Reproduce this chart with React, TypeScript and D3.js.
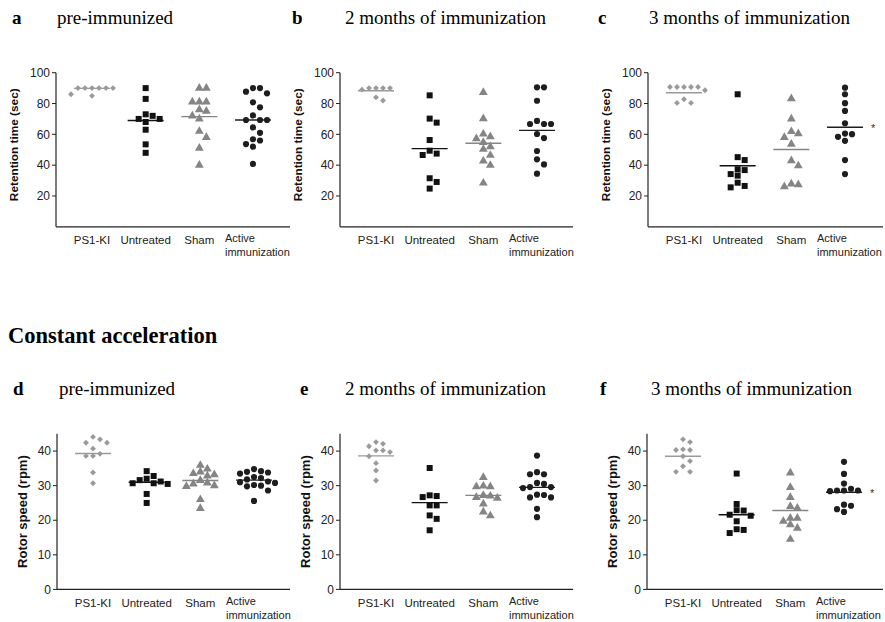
import React from "react";
import * as d3 from "d3";

const categories = ["PS1-KI", "Untreated", "Sham", "Active immunization"];
const panelLetters = ["a", "b", "c", "d", "e", "f"];
const panelTitles = [
  "pre-immunized",
  "2 months of immunization",
  "3 months of immunization",
  "pre-immunized",
  "2 months of immunization",
  "3 months of immunization",
];
const sectionTitle = "Constant acceleration";
const yLabelRetention = "Retention time (sec)";
const yLabelRotor = "Rotor speed (rpm)";
const retentionTicks = [20, 40, 60, 80, 100];
const rotorTicks = [0, 10, 20, 30, 40];

// Retention time (sec)
const retentionPre = [
  [90, 90, 90, 90, 90, 90, 86, 85],
  [90, 83, 72, 70, 68, 70, 73, 63, 53.5, 48],
  [90, 90, 81, 81, 81, 76, 75, 72, 70, 62, 58, 51, 40],
  [90, 90, 87.7, 86.6, 80.8, 77.5, 72.3, 69.3, 69.3, 69.3, 64.5, 61, 56.8, 56, 53.7, 52, 40.8],
];
const retention2m = [
  [90, 90, 89, 90, 90, 84, 82],
  [85.3, 67.6, 70.2, 56.3, 49.4, 46.6, 47.5, 31.5, 29.1, 24.8],
  [87.2, 70.2, 60.2, 58.5, 57.2, 54.8, 52, 50.3, 46.4, 42.7, 39.9, 28.4],
  [90.5, 90.5, 81.8, 66.7, 66.7, 66.7, 68.7, 60.2, 57.6, 49.2, 43.8, 40.5, 34.5],
];
const retention3m = [
  [90.7, 90.7, 90.7, 90.7, 90.7, 88.6, 82.8, 80.4, 80.4],
  [86, 43.3, 45.2, 37.3, 34.2, 33.2, 36.8, 28.6, 25.6, 26.5],
  [83.2, 70, 60.5, 61.8, 58, 53.6, 42.9, 39.6, 27.8, 26, 27.3],
  [90.3, 86, 80.2, 75.2, 67.2, 60.5, 60.1, 58.4, 55.8, 43.3, 34.2],
];
// Rotor speed (rpm)
const rotorPre = [
  [44.1, 43.4, 42.4, 42.4, 40.7, 39.2, 38.6, 38.6, 33.8, 30.7],
  [34.2, 32.8, 32, 31.6, 31.2, 30.7, 30.7, 30.5, 27.6, 25],
  [35.9, 34.8, 34.0, 33.5, 33.2, 32.8, 31.5, 30.8, 30.5, 30.0, 29.8, 26, 23.4],
  [34.8, 34.2, 34, 33.8, 33.5, 32.5, 32.2, 31.8, 31.2, 31, 30.8, 30.2, 30, 29.8, 28.6, 25.6],
];
const rotor2m = [
  [41.4, 42.1, 42.6, 40.2, 39.7, 40.2, 38.5, 36.5, 34.4, 31.5],
  [35.1, 27.2, 27, 26.7, 24.3, 24.3, 21.4, 20.4, 17.1],
  [32.4, 29.7, 29.7, 29.9, 27.2, 26.6, 27.0, 26.4, 24.7, 22.4, 21.3],
  [38.7, 33.9, 33.3, 33.3, 30.8, 30.5, 29.6, 29.3, 29.6, 27.4, 26.6, 26.6, 27.3, 23.3, 20.9],
];
const rotor3m = [
  [43.4, 42.6, 40.5, 40.3, 40.3, 38.5, 37.1, 35.6, 34, 34],
  [33.5, 24.7, 22.9, 22.8, 21.3, 21.6, 19.7, 17.4, 17.2, 16.3],
  [33.7, 29.5, 26.6, 24, 23.5, 20.6, 20.6, 19.7, 18.7, 17.7, 14.5],
  [36.9, 33.4, 30.6, 29.1, 28.6, 28.6, 28.4, 28.6, 24.5, 24.2, 23.2, 22.4],
];

// Group means (horizontal bars)
const retentionPreMeans = [89.8, 69, 71.5, 69.3];
const retention2mMeans = [88.3, 50.7, 54.2, 62.6];
const retention3mMeans = [87, 39.6, 50.2, 64.6];
const rotorPreMeans = [39.3, 31, 31.5, 31.6];
const rotor2mMeans = [38.6, 25.1, 27.2, 29.5];
const rotor3mMeans = [38.5, 21.6, 22.8, 28.1];
const significance = ["", "", "*", "", "", "*"];

const panelData = [retentionPre, retention2m, retention3m, rotorPre, rotor2m, rotor3m];
const panelMeans = [retentionPreMeans, retention2mMeans, retention3mMeans, rotorPreMeans, rotor2mMeans, rotor3mMeans];

const groupColors = ["#9a9a9a", "#111111", "#858585", "#1e1e1e"];
const diamondSym = (d3 as any).symbolDiamond2 || d3.symbolDiamond;
const groupSymbols = [diamondSym, d3.symbolSquare, d3.symbolTriangle, d3.symbolCircle];
const symbolSizes = [22, 36, 34, 30];

const SERIF = "'Liberation Serif', 'Times New Roman', serif";
const SANS = "'Liberation Sans', Arial, sans-serif";

// layout of each panel (y-axis x, axis end x)
const panelAxisX = [56, 340, 648, 57, 340, 647];
const panelAxisEnd = [290, 573, 883, 290, 573, 883];
const letterX = [12, 292, 598, 13, 300, 600];
const titleX = [57, 345, 649, 59, 345, 651];

function swarm(values: number[], y: (v: number) => number, cx: number, step = 7, minDy = 6.2) {
  const pts = values.map((v) => ({ v, y: y(v) })).sort((a, b) => a.y - b.y);
  const placed: { k: number; y: number; v: number }[] = [];
  const order = [0, 1, -1, 2, -2, 3, -3, 4, -4, 5, -5];
  for (const p of pts) {
    for (const k of order) {
      if (!placed.some((q) => q.k === k && Math.abs(q.y - p.y) < minDy)) {
        placed.push({ k, y: p.y, v: p.v });
        break;
      }
    }
  }
  return placed.map((q) => ({ x: cx + q.k * step, y: q.y, v: q.v }));
}

function Panel({ idx }: { idx: number }) {
  const top = idx < 3;
  const ax = panelAxisX[idx];
  const axEnd = panelAxisEnd[idx];
  const y = top
    ? d3.scaleLinear().domain([0, 100]).range([226.8, 72.7])
    : d3.scaleLinear().domain([0, 45]).range([589.4, 589.4 - 45 * 3.458]);
  const ticks = top ? retentionTicks : rotorTicks;
  const x = d3.scalePoint<string>().domain(categories).range([ax + 36, ax + 197]);
  const data = panelData[idx];
  const means = panelMeans[idx];
  const yMax = top ? 100 : 45;
  const titleBase = top ? 24 : 395;
  const labelY = top ? 244 : 607;
  const yLabel = top ? yLabelRetention : yLabelRotor;
  const yLabelX = top ? ax - 38 : ax - 30;
  const fsLabel = top ? 11.8 : 13;
  return (
    <g>
      <text x={letterX[idx]} y={titleBase} fontFamily={SERIF} fontWeight="bold" fontSize={19}>
        {panelLetters[idx]}
      </text>
      <text x={titleX[idx]} y={titleBase} fontFamily={SERIF} fontSize={19}>
        {panelTitles[idx]}
      </text>
      {/* axes */}
      <line x1={ax} x2={ax} y1={y(yMax)} y2={y(0)} stroke="#222" strokeWidth={1.2} />
      <line x1={ax} x2={axEnd} y1={y(0)} y2={y(0)} stroke="#222" strokeWidth={1.2} />
      {ticks.map((t) => (
        <g key={t}>
          <line x1={ax - 4} x2={ax} y1={y(t)} y2={y(t)} stroke="#222" strokeWidth={1} />
          <text x={ax - 6} y={y(t)} dy="0.35em" textAnchor="end" fontFamily={SANS} fontSize={12} fill="#222">
            {t}
          </text>
        </g>
      ))}
      <text
        transform={`translate(${yLabelX},${(y(yMax) + y(0)) / 2 - (top ? 5 : 0)}) rotate(-90)`}
        textAnchor="middle"
        fontFamily={SANS}
        fontWeight="bold"
        fontSize={fsLabel}
        fill="#111"
      >
        {yLabel}
      </text>
      {categories.map((c, i) =>
        i < 3 ? (
          <text key={c} x={x(c)} y={labelY} textAnchor="middle" fontFamily={SANS} fontSize={11.5} fill="#222">
            {c}
          </text>
        ) : (
          <text key={c} x={(x(c) as number) - 28} y={labelY - 2} fontFamily={SANS} fontSize={11} fill="#222">
            <tspan x={(x(c) as number) - 28}>{c.split(" ")[0]}</tspan>
            <tspan x={(x(c) as number) - 28} dy={14}>
              {c.split(" ")[1]}
            </tspan>
          </text>
        )
      )}
      {/* points */}
      {data.map((vals, gi) => {
        const cx = x(categories[gi]) as number;
        const pts = swarm(vals, y, cx);
        const sym = d3.symbol().type(groupSymbols[gi]).size(symbolSizes[gi]);
        return (
          <g key={gi}>
            {pts.map((p, pi) => (
              <path key={pi} d={sym() as string} transform={`translate(${p.x},${p.y})`} fill={groupColors[gi]} />
            ))}
            <line
              x1={cx - 18}
              x2={cx + 18}
              y1={y(means[gi])}
              y2={y(means[gi])}
              stroke={groupColors[gi]}
              strokeWidth={1.4}
            />
          </g>
        );
      })}
      {significance[idx] && (
        <text
          x={(x(categories[3]) as number) + 26}
          y={y(means[3]) + 5}
          fontFamily={SANS}
          fontSize={11}
          fill="#333"
        >
          {significance[idx]}
        </text>
      )}
    </g>
  );
}

export default function App() {
  return (
    <svg
      width={885}
      height={622}
      style={{ position: "absolute", left: 0, top: 0, background: "#fff" }}
      viewBox="0 0 885 622"
    >
      <rect width={885} height={622} fill="#fff" />
      <text x={8} y={343} fontFamily={SERIF} fontWeight="bold" fontSize={22.5}>
        {sectionTitle}
      </text>
      {[0, 1, 2, 3, 4, 5].map((i) => (
        <Panel key={i} idx={i} />
      ))}
    </svg>
  );
}
